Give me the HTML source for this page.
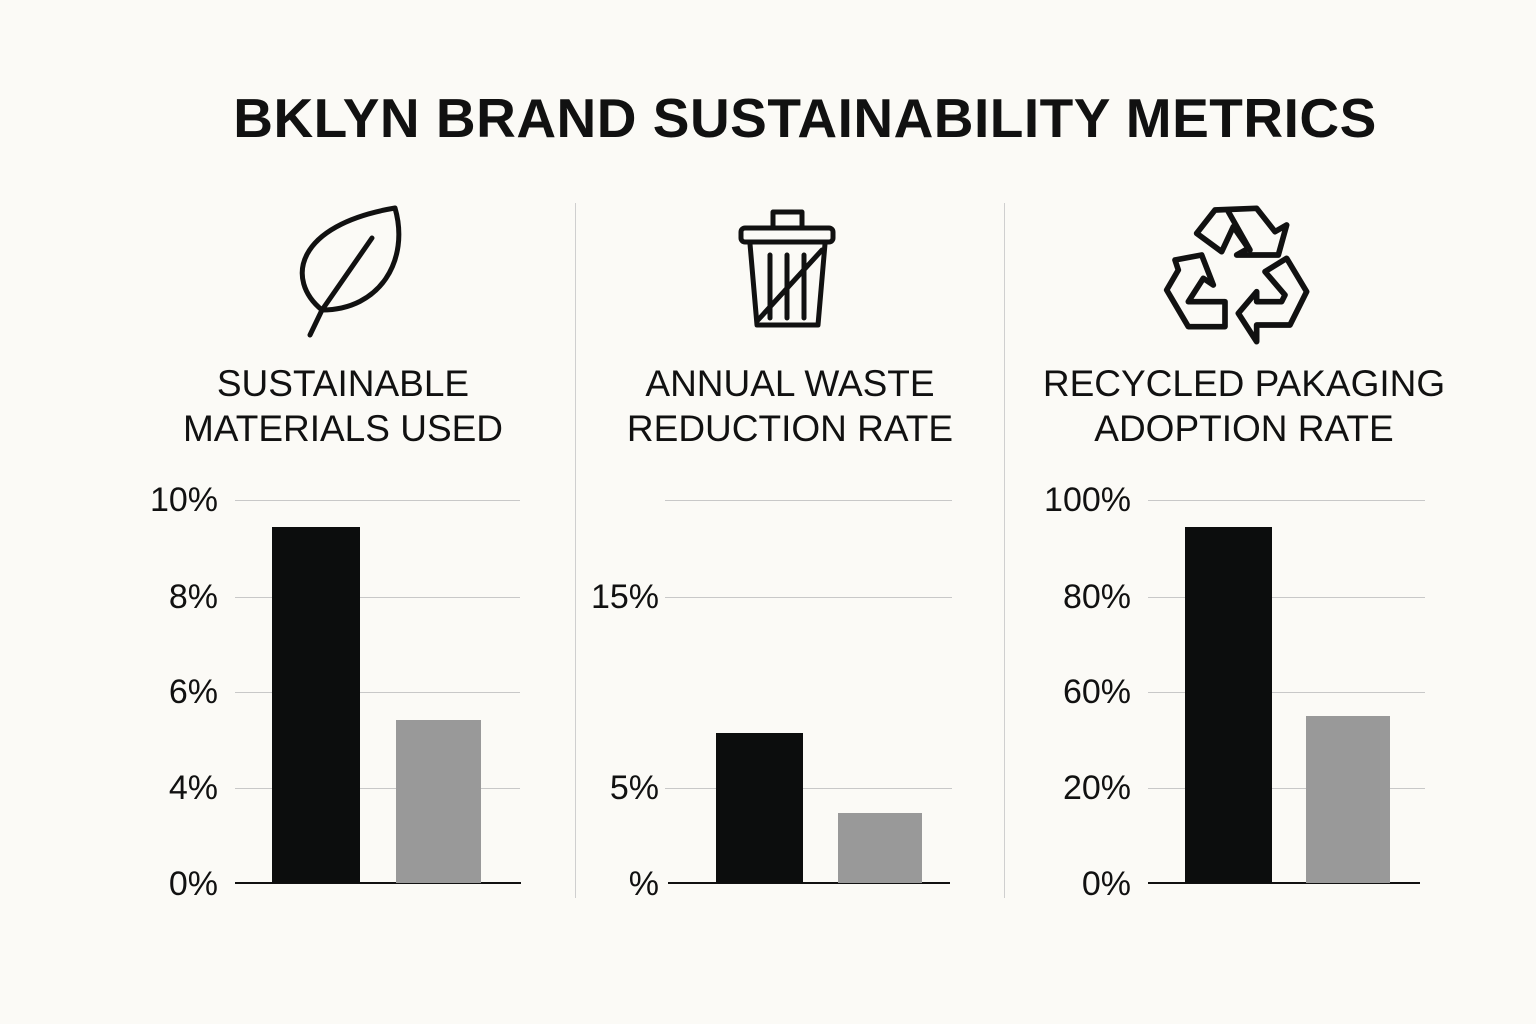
<!DOCTYPE html>
<html><head><meta charset="utf-8"><style>
body{margin:0;width:1536px;height:1024px;background:#fbfaf6;position:relative;overflow:hidden;font-family:"Liberation Sans",sans-serif;color:#111}
.t{position:absolute;white-space:nowrap}
.title{left:0;width:1610px;text-align:center;top:86px;font-size:55px;font-weight:bold;letter-spacing:0.5px}
.sub{font-size:37px;text-align:center;line-height:45px;width:460px;top:361px}
.lab{font-size:34px;text-align:right;width:130px}
.g{position:absolute;height:1px;background:#c8c8c8}
.ax{position:absolute;height:2px;background:#111}
.bar{position:absolute}
.k{background:#0c0d0d}.gr{background:#999}
.div{position:absolute;width:1px;background:#cfcfcf;top:203px;height:695px}
</style></head><body>
<div class="t title">BKLYN BRAND SUSTAINABILITY METRICS</div>
<div class="div" style="left:575px"></div><div class="div" style="left:1004px"></div>

<svg style="position:absolute;left:0;top:0" width="1536" height="360" fill="none" stroke="#111" stroke-width="5" stroke-linejoin="round" stroke-linecap="round">
<path d="M310 335 L322 310 C285 280 295 225 395 208 C410 260 380 310 322 310"/>
<path d="M322 310 L372 238"/>
<rect x="741" y="228" width="92" height="14" rx="4"/>
<path d="M773 228 V212 H802 V228"/>
<path d="M750 244 L757 325 H818 L825 244"/>
<path d="M770 255 V318 M787 255 V318 M804 255 V318 M758 320 L822 250"/>
<g transform="translate(1150,195) scale(0.3333)" stroke-width="17">
<path d="M215 170 L140 115 L195 45 L320 40 L375 110 L410 90 L385 180 L260 180 L295 160 L250 95 Z"/>
<path d="M235 50 L300 165"/>
<path d="M75 195 L155 180 L190 270 L160 250 L115 320 L225 320 L225 395 L115 395 L50 285 L85 225 Z"/>
<path d="M345 230 L410 190 L470 290 L420 390 L320 390 L320 440 L265 355 L320 290 L320 320 L395 320 L405 300 Z"/>
</g>
</svg>

<div class="t sub" style="left:113px">SUSTAINABLE<br>MATERIALS USED</div>
<div class="t sub" style="left:560px">ANNUAL WASTE<br>REDUCTION RATE</div>
<div class="t sub" style="left:1014px">RECYCLED PAKAGING<br>ADOPTION RATE</div>

<!-- panel 1 -->
<div class="g" style="left:235px;width:285px;top:500px"></div>
<div class="g" style="left:235px;width:285px;top:597px"></div>
<div class="g" style="left:235px;width:285px;top:692px"></div>
<div class="g" style="left:235px;width:285px;top:788px"></div>
<div class="ax" style="left:235px;width:286px;top:882px"></div>
<div class="t lab" style="left:88px;top:481px">10%</div>
<div class="t lab" style="left:88px;top:578px">8%</div>
<div class="t lab" style="left:88px;top:673px">6%</div>
<div class="t lab" style="left:88px;top:769px">4%</div>
<div class="t lab" style="left:88px;top:865px">0%</div>
<div class="bar k" style="left:272px;width:88px;top:527px;height:356px"></div>
<div class="bar gr" style="left:396px;width:85px;top:720px;height:163px"></div>

<!-- panel 2 -->
<div class="g" style="left:665px;width:287px;top:500px"></div>
<div class="g" style="left:665px;width:287px;top:597px"></div>
<div class="g" style="left:665px;width:287px;top:788px"></div>
<div class="ax" style="left:668px;width:282px;top:882px"></div>
<div class="t lab" style="left:529px;top:578px">15%</div>
<div class="t lab" style="left:529px;top:769px">5%</div>
<div class="t lab" style="left:529px;top:865px">%</div>
<div class="bar k" style="left:716px;width:87px;top:733px;height:150px"></div>
<div class="bar gr" style="left:838px;width:84px;top:813px;height:70px"></div>

<!-- panel 3 -->
<div class="g" style="left:1148px;width:277px;top:500px"></div>
<div class="g" style="left:1148px;width:277px;top:597px"></div>
<div class="g" style="left:1148px;width:277px;top:692px"></div>
<div class="g" style="left:1148px;width:277px;top:788px"></div>
<div class="ax" style="left:1148px;width:272px;top:882px"></div>
<div class="t lab" style="left:1001px;top:481px">100%</div>
<div class="t lab" style="left:1001px;top:578px">80%</div>
<div class="t lab" style="left:1001px;top:673px">60%</div>
<div class="t lab" style="left:1001px;top:769px">20%</div>
<div class="t lab" style="left:1001px;top:865px">0%</div>
<div class="bar k" style="left:1185px;width:87px;top:527px;height:356px"></div>
<div class="bar gr" style="left:1306px;width:84px;top:716px;height:167px"></div>
</body></html>
